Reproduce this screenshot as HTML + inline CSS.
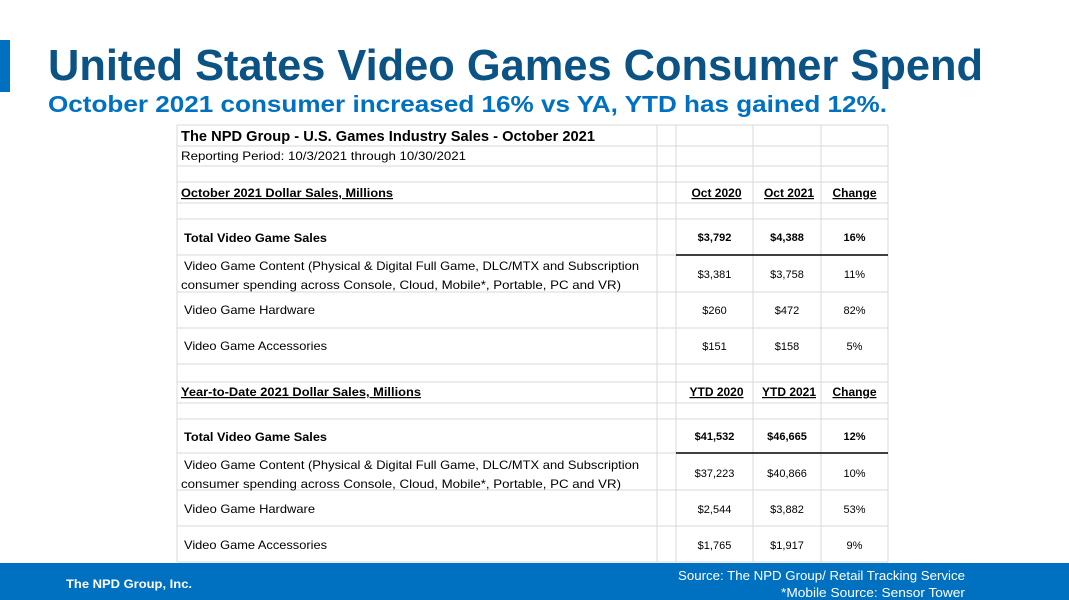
<!DOCTYPE html>
<html><head><meta charset="utf-8"><style>
html,body{margin:0;padding:0;background:#fff;}
svg{display:block;font-family:"Liberation Sans",sans-serif;}
</style></head><body>
<svg id="s" width="1069" height="600" viewBox="0 0 1069 600" xmlns="http://www.w3.org/2000/svg">
<rect x="0" y="40" width="10" height="52" fill="#0070c0"/>
<text x="48" y="80" font-size="44" font-weight="bold" fill="#0b5285" textLength="935" lengthAdjust="spacingAndGlyphs">United States Video Games Consumer Spend</text>
<text x="48" y="112" font-size="23" font-weight="bold" fill="#0070c0" textLength="839" lengthAdjust="spacingAndGlyphs">October 2021 consumer increased 16% vs YA, YTD has gained 12%.</text>
<g id="grid" stroke="#d9d9d9" stroke-width="1"></g>
<g id="txt" fill="#000"></g>
<rect x="0" y="563" width="1069" height="37" fill="#0070c0"/>
<text x="66" y="588" font-size="12" font-weight="bold" fill="#fff" textLength="126" lengthAdjust="spacingAndGlyphs">The NPD Group, Inc.</text>
<text x="965" y="580" font-size="12.5" fill="#fff" text-anchor="end" textLength="287" lengthAdjust="spacingAndGlyphs">Source: The NPD Group/ Retail Tracking Service</text>
<text x="965" y="597" font-size="12.5" fill="#fff" text-anchor="end" textLength="184" lengthAdjust="spacingAndGlyphs">*Mobile Source: Sensor Tower</text>
</svg>
<script>
const ns="http://www.w3.org/2000/svg";
const colX=[177,657,676,753,821,888];
const rowY=[125,146,166,182,203,219,255,292,328,364,382,403,419,453,490,526,562];
const octCols=["Oct 2020","Oct 2021","Change"];
const ytdCols=["YTD 2020","YTD 2021","Change"];
const octValues=[["$3,792","$4,388","16%"],["$3,381","$3,758","11%"],["$260","$472","82%"],["$151","$158","5%"]];
const ytdValues=[["$41,532","$46,665","12%"],["$37,223","$40,866","10%"],["$2,544","$3,882","53%"],["$1,765","$1,917","9%"]];
const g=document.getElementById('grid'), t=document.getElementById('txt');
function line(x1,y1,x2,y2,c,w){const l=document.createElementNS(ns,'line');l.setAttribute('x1',x1);l.setAttribute('y1',y1);l.setAttribute('x2',x2);l.setAttribute('y2',y2);if(c){l.setAttribute('stroke',c);l.setAttribute('stroke-width',w);}


g.appendChild(l);}
colX.forEach(x=>line(x,rowY[0],x,rowY[rowY.length-1]));
rowY.forEach(y=>line(colX[0],y,colX[5],y));
line(676,255,888,255,'#000',1.5);
line(676,453,888,453,'#000',1.5);
function tx(s,x,y,opt){const e=document.createElementNS(ns,'text');e.textContent=s;e.setAttribute('x',x);e.setAttribute('y',y);e.setAttribute('font-size',opt.fs||12);if(opt.b)e.setAttribute('font-weight','bold');if(opt.u)e.setAttribute('text-decoration','underline');if(opt.c)e.setAttribute('text-anchor','middle');if(opt.w){e.setAttribute('textLength',opt.w);e.setAttribute('lengthAdjust','spacingAndGlyphs');}


t.appendChild(e);}
tx("The NPD Group - U.S. Games Industry Sales - October 2021",181,141,{fs:15,b:1,w:414,n:'table-title'});
tx("Reporting Period: 10/3/2021 through 10/30/2021",181,160,{fs:12,w:285,n:'reporting-period'});
function section(off,hdr,hw,cols,vals){
  tx(hdr,181,197+off,{b:1,u:1,w:hw,n:'section-header'});
  const cx=[(676+753)/2,(753+821)/2,(821+888)/2];
  cols.forEach((c,i)=>tx(c,cx[i]+(i==2?0:2),197+off,{b:1,u:1,c:1,n:'column-header'}));
  tx("Total Video Game Sales",184,242+off,{b:1,w:143,n:'row-label'});
  tx("Video Game Content (Physical & Digital Full Game, DLC/MTX and Subscription",184,270+off,{w:455,n:'row-label'});
  tx("consumer spending across Console, Cloud, Mobile*, Portable, PC and VR)",181,289+off,{w:440,n:'row-label'});
  tx("Video Game Hardware",184,314+off,{w:131,n:'row-label'});
  tx("Video Game Accessories",184,350+off,{w:143,n:'row-label'});
  const ys=[241,278,314,350];
  vals.forEach((r,ri)=>r.forEach((v,ci)=>tx(v,cx[ci],ys[ri]+off,{fs:11,b:ri==0,c:1,n:'value-cell'})));
}
section(0,"October 2021 Dollar Sales, Millions",212,octCols,octValues);
section(199,"Year-to-Date 2021 Dollar Sales, Millions",240,ytdCols,ytdValues);
</script>
</body></html>
